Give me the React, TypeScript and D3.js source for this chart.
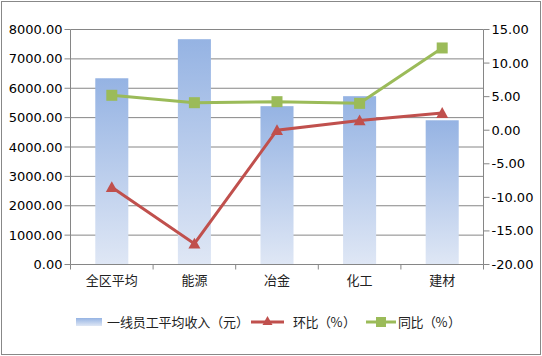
import React from "react";
import * as d3 from "d3";

const categories = ["全区平均", "能源", "冶金", "化工", "建材"];
const income = [6340, 7670, 5390, 5730, 4910];
const hb = [-8.5, -16.9, 0.0, 1.45, 2.55];
const tb = [5.2, 4.1, 4.25, 4.0, 12.25];
const leftTicks = [0, 1000, 2000, 3000, 4000, 5000, 6000, 7000, 8000];
const rightTicks = [-20, -15, -10, -5, 0, 5, 10, 15];
const legendLabels = ["一线员工平均收入（元）", "环比（%）", "同比（%）"];

const W = 542, H = 356;
const L = 70.5, R = 483.5, T = 29.5, B = 264.5;
const numFont = "DejaVu Sans, sans-serif";
const cjkFont = "'Noto Sans CJK SC', sans-serif";
const red = "#c0504d", green = "#9bbb59", grid = "#868686";

function spaced(s: string, x0: number, stepPx: number) {
  return Array.from(s).map((_, i) => x0 + i * stepPx).join(" ");
}

export default function App() {
  const x = d3.scaleBand<string>().domain(categories).range([L, R]).paddingInner(0.6).paddingOuter(0.3);
  const xc = (c: string) => (x(c) as number) + x.bandwidth() / 2;
  const yL = d3.scaleLinear().domain([0, 8000]).range([B, T]);
  const yR = d3.scaleLinear().domain([-20, 15]).range([B, T]);
  const line = d3.line<number>().x((_, i) => xc(categories[i])).y((v) => yR(v));
  const step = (R - L) / categories.length;
  const tri = (cx: number, cy: number, s = 6) => `M${cx},${cy - s}L${cx + s},${cy + s * 0.8}L${cx - s},${cy + s * 0.8}Z`;
  return (
    <svg width={W} height={H} style={{ position: "absolute", left: 0, top: 0 }}>
      <defs>
        <linearGradient id="barg" x1="0" y1="0" x2="0" y2="1">
          <stop offset="0" stopColor="#95b3e3" />
          <stop offset="1" stopColor="#dfe7f5" />
        </linearGradient>
      </defs>
      <rect x={0} y={0} width={W} height={H} fill="#fff" />
      <rect x={1.5} y={1.5} width={539} height={353} fill="none" stroke="#888" strokeWidth={1} />
      {leftTicks.map((t) => (
        <g key={t}>
          {t > 0 && <line x1={L} x2={R} y1={yL(t)} y2={yL(t)} stroke={grid} strokeWidth={1} />}
          <line x1={L - 6} x2={L} y1={yL(t)} y2={yL(t)} stroke={grid} />
          <text x={L - 8} y={yL(t)} dy="0.35em" textAnchor="end" fontFamily={numFont} fontSize={13} fill="#000">{t.toFixed(2)}</text>
        </g>
      ))}
      {rightTicks.map((t) => (
        <g key={t}>
          <line x1={R} x2={R + 6} y1={yR(t)} y2={yR(t)} stroke={grid} />
          <text x={R + 8} y={yR(t)} dy="0.35em" textAnchor="start" fontFamily={numFont} fontSize={13} fill="#000">{t.toFixed(2)}</text>
        </g>
      ))}
      {categories.map((c, i) => (
        <rect key={c} x={x(c)} y={yL(income[i])} width={x.bandwidth()} height={B - yL(income[i])} fill="url(#barg)" />
      ))}
      <line x1={L} x2={L} y1={T} y2={B} stroke={grid} />
      <line x1={R} x2={R} y1={T} y2={B} stroke={grid} />
      <line x1={L} x2={R} y1={B} y2={B} stroke={grid} />
      {d3.range(categories.length + 1).map((i) => (
        <line key={i} x1={L + i * step} x2={L + i * step} y1={B} y2={B + 5} stroke={grid} />
      ))}
      {categories.map((c) => (
        <text key={c} x={xc(c)} y={B + 20} textAnchor="middle" fontFamily={cjkFont} fontSize={13} fill="#222">{c}</text>
      ))}
      <path d={line(hb) as string} fill="none" stroke={red} strokeWidth={3} />
      {hb.map((v, i) => <path key={i} d={tri(xc(categories[i]), yR(v))} fill={red} />)}
      <path d={line(tb) as string} fill="none" stroke={green} strokeWidth={3} />
      {tb.map((v, i) => <rect key={i} x={xc(categories[i]) - 5.5} y={yR(v) - 5.5} width={11} height={11} fill={green} />)}
      <g>
        <rect x={76} y={318} width={26} height={8} fill="url(#barg)" />
        <text x={spaced(legendLabels[0], 107, 12.9)} y={322} dy="0.35em" fontFamily={cjkFont} fontSize={13} fill="#222">{legendLabels[0]}</text>
        <line x1={251} x2={284} y1={322} y2={322} stroke={red} strokeWidth={3} />
        <path d={tri(267.5, 321, 5)} fill={red} />
        <text x={spaced(legendLabels[1], 293, 12.5)} y={322} dy="0.35em" fontFamily={cjkFont} fontSize={13} fill="#222">{legendLabels[1]}</text>
        <line x1={366} x2={396} y1={322} y2={322} stroke={green} strokeWidth={3} />
        <rect x={376} y={317} width={10} height={10} fill={green} />
        <text x={spaced(legendLabels[2], 398, 12.5)} y={322} dy="0.35em" fontFamily={cjkFont} fontSize={13} fill="#222">{legendLabels[2]}</text>
      </g>
    </svg>
  );
}
